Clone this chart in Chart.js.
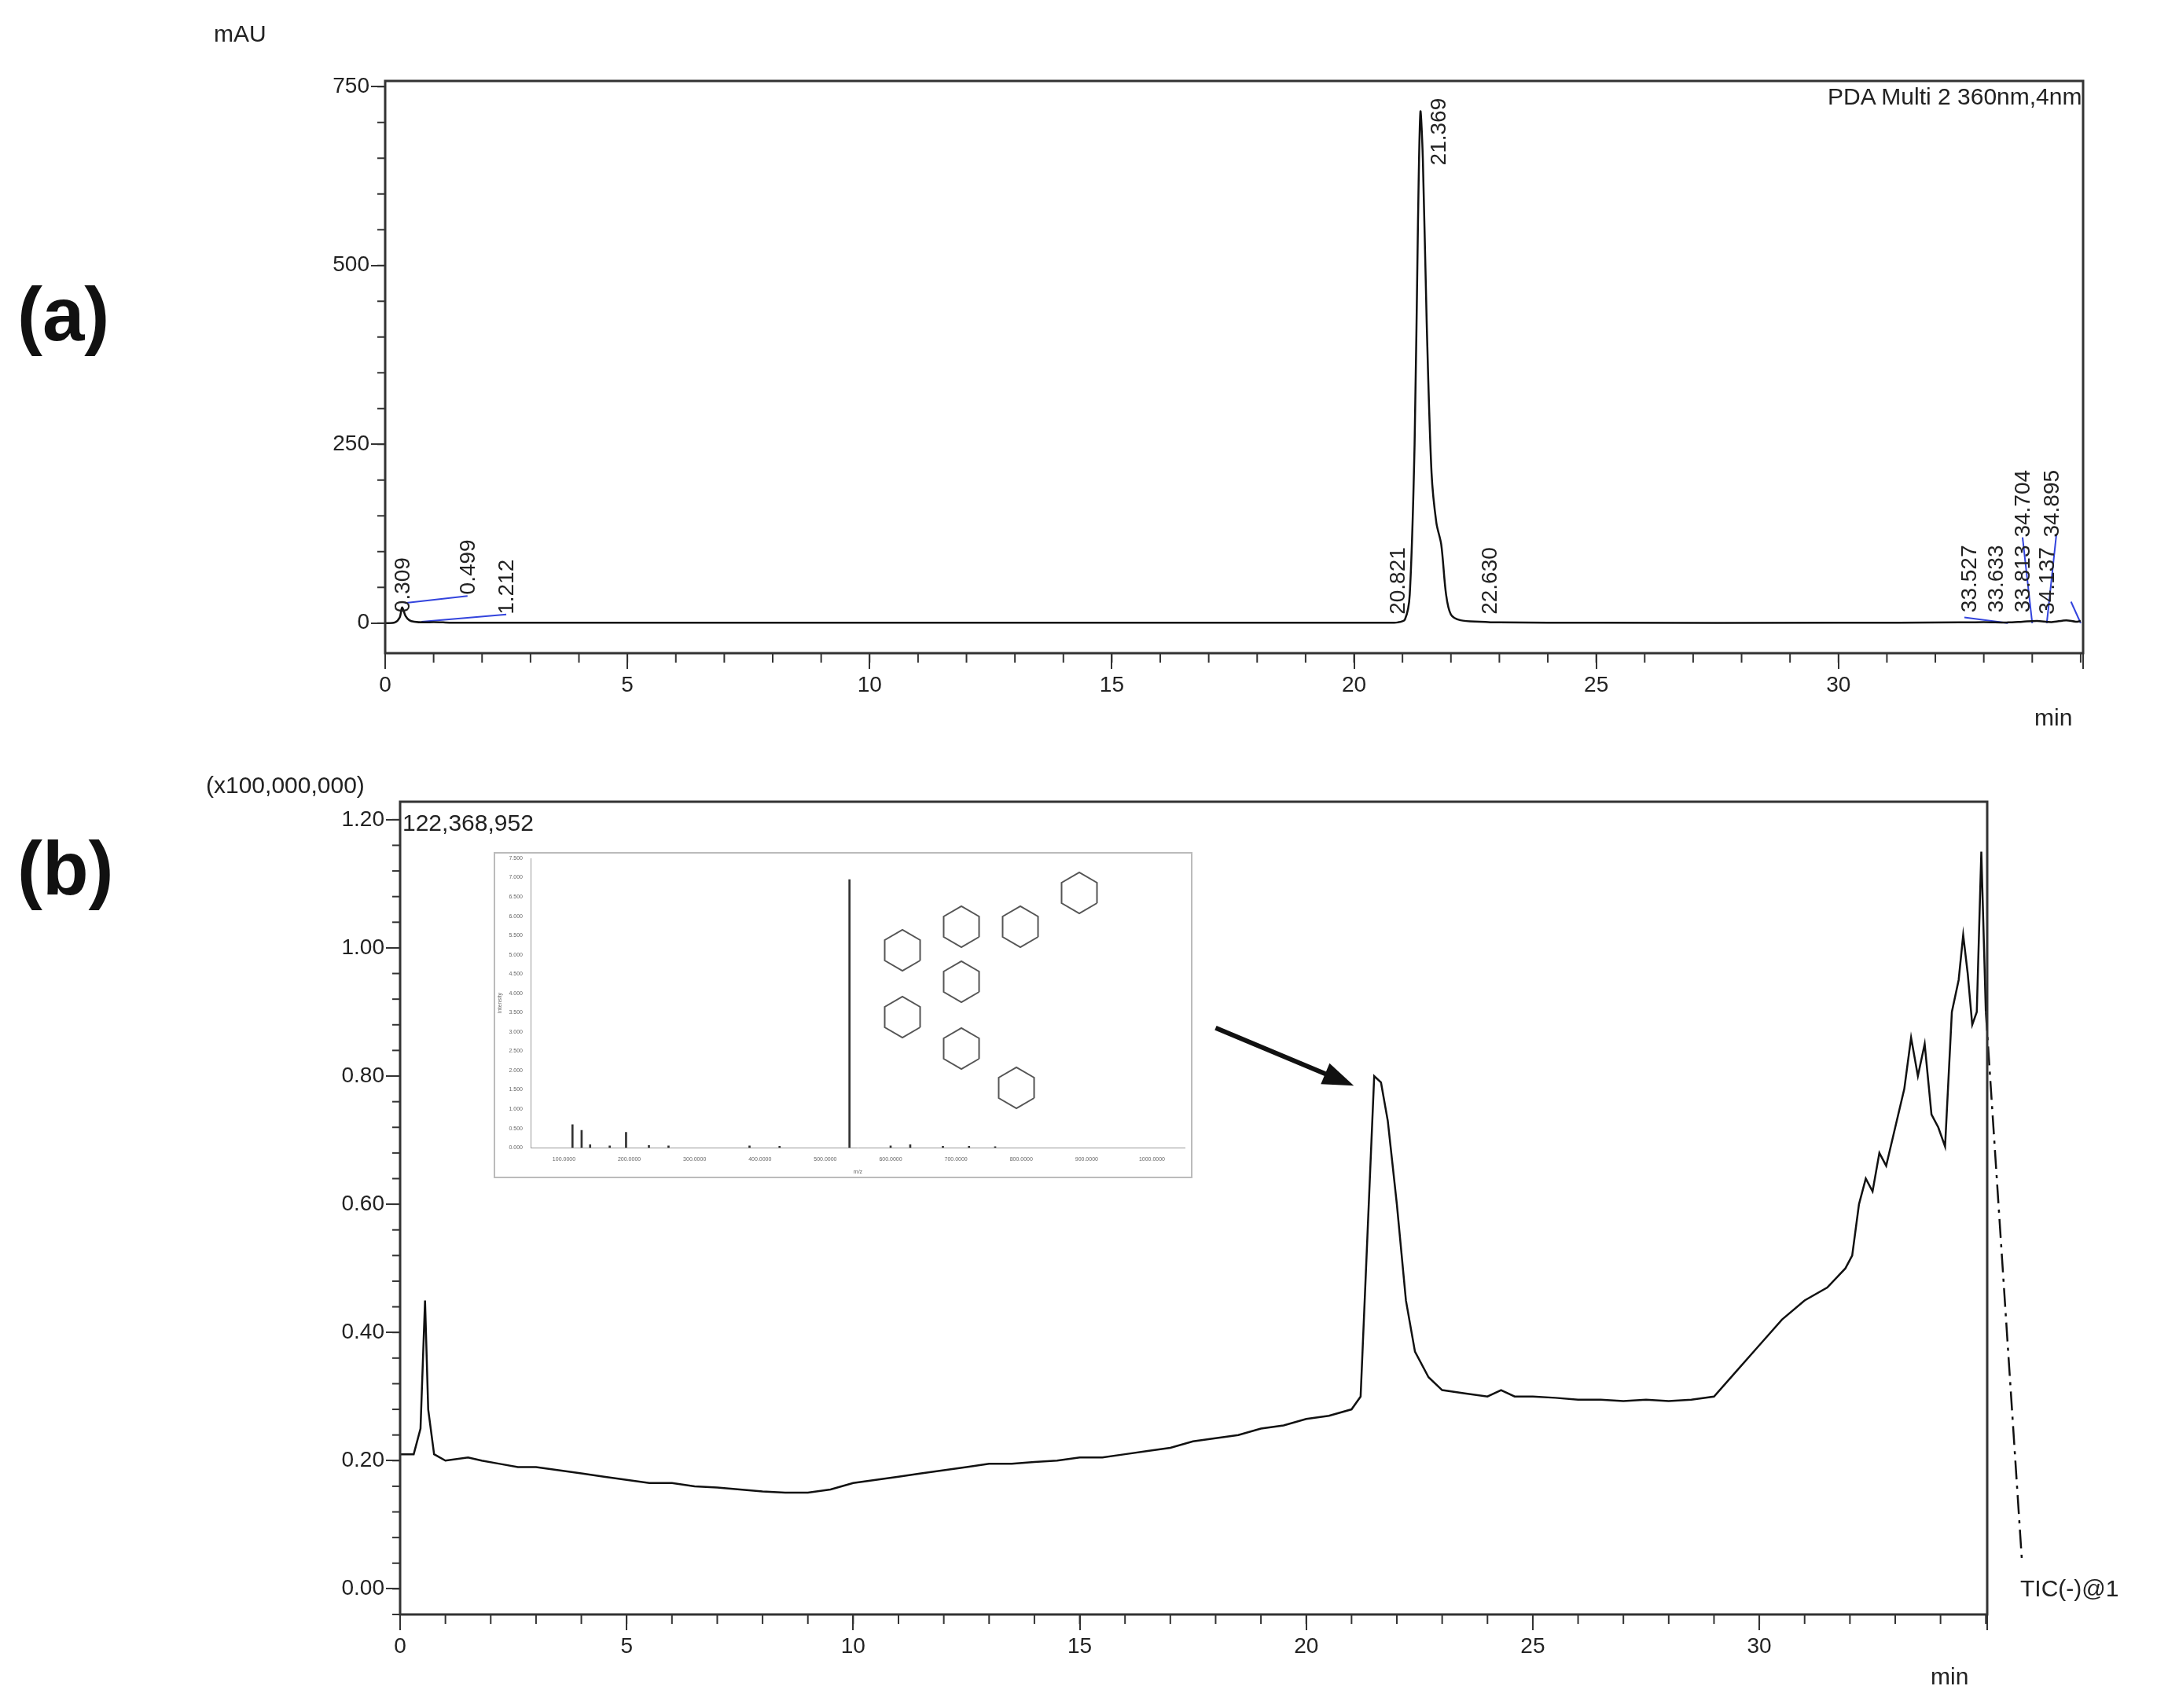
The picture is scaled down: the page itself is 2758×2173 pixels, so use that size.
<!DOCTYPE html>
<html>
<head>
<meta charset="utf-8">
<script src="https://cdn.jsdelivr.net/npm/chart.js@4"></script>
<style>
  body { margin: 0; background: #fff; font-family: "Liberation Sans", Arial, sans-serif; }
  #page { position: relative; width: 2758px; height: 2173px; }
  canvas { position: absolute; }
  .lbl { position: absolute; color: #222; font-size: 30px; white-space: nowrap; }
  .big { position: absolute; font-weight: bold; font-size: 96px; color: #111; }
</style>
</head>
<body>
<div id="page">
  <canvas id="chartA" style="left:0px;top:0px" width="2758" height="950"></canvas>
  <canvas id="chartB" style="left:0px;top:950px" width="2758" height="1223"></canvas>
  <canvas id="inset" style="left:628px;top:1084px" width="889" height="415"></canvas>
  <div class="big" style="left:22px;top:345px">(a)</div>
  <div class="big" style="left:22px;top:1050px">(b)</div>
  <div class="lbl" style="left:272px;top:26px">mAU</div>
  <div class="lbl" style="left:2588px;top:896px">min</div>
  <div class="lbl" style="left:2325px;top:106px">PDA Multi 2 360nm,4nm</div>
  <div class="lbl" style="left:262px;top:982px">(x100,000,000)</div>
  <div class="lbl" style="left:512px;top:1030px">122,368,952</div>
  <div class="lbl" style="left:2570px;top:2004px">TIC(-)@1</div>
  <div class="lbl" style="left:2456px;top:2116px">min</div>
</div>
<script>
// ---- panel (a): PDA 360 nm chromatogram ----
var timeA = [0, 0.2, 0.3, 0.35, 0.42, 0.5, 0.6, 0.8, 1.0, 1.2, 1.5, 2, 3, 5, 10, 15, 20, 20.6, 20.9, 21.05, 21.15, 21.25, 21.32, 21.37, 21.42, 21.5, 21.6, 21.7, 21.8, 21.9, 22.0, 22.2, 22.6, 23, 25, 30, 32.5, 33.0, 33.5, 33.8, 34.1, 34.4, 34.7, 34.9, 35.0];
var mauA  = [0, 1, 8, 22, 10, 4, 2, 1, 1.5, 1, 0.5, 0.5, 0.5, 0.5, 0.5, 0.5, 0.5, 0.5, 1, 5, 40, 250, 560, 715, 650, 420, 210, 140, 110, 40, 12, 4, 2, 1, 0.5, 0.5, 1, 1.5, 1, 2, 3, 1.5, 4, 2, 3];
var yTicksA = [0, 250, 500, 750];
var peakLabelsA = ["0.309", "0.499", "1.212", "20.821", "21.369", "22.630", "33.527", "33.633", "33.813", "34.704", "34.137", "34.895"];
var peakLabelX  = [0.6, 1.95, 2.75, 21.15, 22.0, 23.05, 32.95, 33.5, 34.05, 34.05, 34.55, 34.65];
var peakLabelY  = [15, 40, 12, 12, 640, 12, 15, 15, 15, 120, 12, 120];
// blue integration baselines, pairs of [t, mAU]
var baselineA = [
  [[0.4, 28], [1.7, 38]],
  [[0.75, 2], [2.5, 12]],
  [[32.6, 8], [33.5, 0]],
  [[33.8, 120], [34.0, 0]],
  [[34.5, 125], [34.3, 0]],
  [[34.8, 30], [35.0, 0]]
];

// ---- panel (b): TIC ----
var timeB = [0, 0.3, 0.45, 0.55, 0.62, 0.75, 1.0, 1.5, 1.8, 2.2, 2.6, 3.0, 3.5, 4.0, 4.5, 5.0, 5.5, 6.0, 6.5, 7.0, 7.5, 8.0, 8.5, 9.0, 9.5, 10.0, 10.5, 11.0, 11.5, 12.0, 12.5, 13.0, 13.5, 14.0, 14.5, 15.0, 15.5, 16.0, 16.5, 17.0, 17.5, 18.0, 18.5, 19.0, 19.5, 20.0, 20.5, 21.0, 21.2, 21.35, 21.5, 21.65, 21.8, 22.0, 22.2, 22.4, 22.7, 23.0, 23.5, 24.0, 24.3, 24.6, 25.0, 25.5, 26.0, 26.5, 27.0, 27.5, 28.0, 28.5, 29.0, 29.5, 30.0, 30.5, 31.0, 31.5, 31.9, 32.05, 32.2, 32.35, 32.5, 32.65, 32.8, 33.0, 33.2, 33.35, 33.5, 33.65, 33.8, 33.95, 34.1, 34.25, 34.4, 34.5, 34.6, 34.7, 34.8, 34.9, 35.0];
var ticB  = [0.21, 0.21, 0.25, 0.45, 0.28, 0.21, 0.20, 0.205, 0.20, 0.195, 0.19, 0.19, 0.185, 0.18, 0.175, 0.17, 0.165, 0.165, 0.16, 0.158, 0.155, 0.152, 0.15, 0.15, 0.155, 0.165, 0.17, 0.175, 0.18, 0.185, 0.19, 0.195, 0.195, 0.198, 0.20, 0.205, 0.205, 0.21, 0.215, 0.22, 0.23, 0.235, 0.24, 0.25, 0.255, 0.265, 0.27, 0.28, 0.30, 0.55, 0.80, 0.79, 0.73, 0.60, 0.45, 0.37, 0.33, 0.31, 0.305, 0.30, 0.31, 0.30, 0.30, 0.298, 0.295, 0.295, 0.293, 0.295, 0.293, 0.295, 0.30, 0.34, 0.38, 0.42, 0.45, 0.47, 0.50, 0.52, 0.60, 0.64, 0.62, 0.68, 0.66, 0.72, 0.78, 0.86, 0.80, 0.85, 0.74, 0.72, 0.69, 0.90, 0.95, 1.02, 0.96, 0.88, 0.90, 1.15, 0.90];
var yTicksB = [0, 0.2, 0.4, 0.6, 0.8, 1.0, 1.2];
var tailB = [[35.0, 0.90], [35.8, 0.04]];
var arrowB = [[18.0, 0.875], [21.05, 0.785]];

// ---- inset mass spectrum ----
var mzInset = [113, 127, 140, 170, 195, 230, 260, 384, 430, 537, 600, 630, 680, 720, 760];
var intInset = [0.6, 0.45, 0.08, 0.05, 0.4, 0.06, 0.05, 0.05, 0.04, 6.95, 0.05, 0.08, 0.04, 0.04, 0.03];

var TXT = "#222";
var FONT = { family: "'Liberation Sans', Arial, sans-serif", size: 28 };

function minorTicks(chart, axis, step, len) {
  var s = chart.scales[axis], ctx = chart.ctx, a = chart.chartArea;
  ctx.save(); ctx.strokeStyle = "#333"; ctx.lineWidth = 2;
  for (var v = Math.ceil(s.min / step) * step; v <= s.max + 1e-9; v += step) {
    var p = s.getPixelForValue(v);
    ctx.beginPath();
    if (axis === "x") { ctx.moveTo(p, a.bottom); ctx.lineTo(p, a.bottom + len); }
    else { ctx.moveTo(a.left, p); ctx.lineTo(a.left - len, p); }
    ctx.stroke();
  }
  ctx.restore();
}

var frame = {
  id: "frame",
  afterDraw: function (chart) {
    var a = chart.chartArea, ctx = chart.ctx, o = chart.options.plugins.frame;
    ctx.save(); ctx.strokeStyle = "#333"; ctx.lineWidth = 3;
    ctx.strokeRect(a.left, a.top, a.right - a.left, a.bottom - a.top);
    ctx.restore();
    minorTicks(chart, "x", 1, 12);
    minorTicks(chart, "y", o.yMinor, 10);
  }
};

function axes(xmax, ymin, ymax, yticks, yfmt, ywidth, xheight) {
  return {
    x: {
      type: "linear", min: 0, max: xmax,
      grid: { display: true, drawOnChartArea: false, tickLength: 20, color: "#333", lineWidth: 2 },
      border: { display: false },
      ticks: { stepSize: 5, color: TXT, font: FONT, padding: 4, callback: function (v) { return v <= 30 ? v : ""; } },
      afterFit: function (s) { s.height = xheight; }
    },
    y: {
      min: ymin, max: ymax,
      grid: { display: true, drawOnChartArea: false, tickLength: 18, color: "#333", lineWidth: 2 },
      border: { display: false },
      ticks: { color: TXT, font: FONT, padding: 2, callback: yfmt },
      afterBuildTicks: function (s) { s.ticks = yticks.map(function (v) { return { value: v }; }); },
      afterFit: function (s) { s.width = ywidth; }
    }
  };
}

function pts(xs, ys) { return xs.map(function (x, i) { return { x: x, y: ys[i] }; }); }

// panel (a)
var dsA = [{ data: pts(timeA, mauA), borderColor: "#111", borderWidth: 2.5, pointRadius: 0, tension: 0.3 }];
baselineA.forEach(function (seg) {
  dsA.push({ data: seg.map(function (p) { return { x: p[0], y: p[1] }; }), borderColor: "#3344dd", borderWidth: 2, pointRadius: 0 });
});

var peakText = {
  id: "peakText",
  afterDatasetsDraw: function (chart) {
    var ctx = chart.ctx, sx = chart.scales.x, sy = chart.scales.y;
    ctx.save(); ctx.fillStyle = TXT; ctx.font = "28px 'Liberation Sans', Arial";
    peakLabelsA.forEach(function (t, i) {
      ctx.save();
      ctx.translate(sx.getPixelForValue(peakLabelX[i]), sy.getPixelForValue(peakLabelY[i]));
      ctx.rotate(-Math.PI / 2);
      ctx.textBaseline = "bottom";
      ctx.fillText(t, 0, 0);
      ctx.restore();
    });
    ctx.restore();
  }
};

new Chart(document.getElementById("chartA"), {
  type: "line",
  data: { datasets: dsA },
  options: {
    responsive: false, animation: false,
    layout: { padding: { top: 103, right: 108, left: 0, bottom: 0 } },
    scales: axes(35.05, -42, 758, yTicksA, function (v) { return v; }, 490, 119),
    plugins: { legend: { display: false }, tooltip: { enabled: false }, frame: { yMinor: 50 } }
  },
  plugins: [frame, peakText]
});

// panel (b)
var arrow = {
  id: "arrow",
  afterDatasetsDraw: function (chart) {
    var ctx = chart.ctx, sx = chart.scales.x, sy = chart.scales.y;
    var x0 = sx.getPixelForValue(arrowB[0][0]), y0 = sy.getPixelForValue(arrowB[0][1]);
    var x1 = sx.getPixelForValue(arrowB[1][0]), y1 = sy.getPixelForValue(arrowB[1][1]);
    var ang = Math.atan2(y1 - y0, x1 - x0);
    ctx.save(); ctx.strokeStyle = "#111"; ctx.fillStyle = "#111"; ctx.lineWidth = 6;
    ctx.beginPath(); ctx.moveTo(x0, y0);
    ctx.lineTo(x1 - 30 * Math.cos(ang), y1 - 30 * Math.sin(ang)); ctx.stroke();
    ctx.beginPath(); ctx.moveTo(x1, y1);
    ctx.lineTo(x1 - 42 * Math.cos(ang - 0.35), y1 - 42 * Math.sin(ang - 0.35));
    ctx.lineTo(x1 - 42 * Math.cos(ang + 0.35), y1 - 42 * Math.sin(ang + 0.35));
    ctx.closePath(); ctx.fill();
    ctx.restore();
  }
};

new Chart(document.getElementById("chartB"), {
  type: "line",
  data: {
    datasets: [
      { data: pts(timeB, ticB), borderColor: "#111", borderWidth: 2.5, pointRadius: 0, tension: 0 },
      { data: tailB.map(function (p) { return { x: p[0], y: p[1] }; }), borderColor: "#111", borderWidth: 2.5, pointRadius: 0, borderDash: [24, 8, 4, 8], clip: false }
    ]
  },
  options: {
    responsive: false, animation: false,
    layout: { padding: { top: 70, right: 230, left: 0, bottom: 0 } },
    scales: axes(35.03, -0.04, 1.228, yTicksB, function (v) { return v.toFixed(2); }, 509, 119),
    plugins: { legend: { display: false }, tooltip: { enabled: false }, frame: { yMinor: 0.04 } }
  },
  plugins: [frame, arrow]
});

// inset spectrum with structure sketch
var structure = {
  id: "structure",
  beforeDraw: function (chart) {
    var ctx = chart.ctx;
    ctx.save(); ctx.fillStyle = "#fff"; ctx.fillRect(0, 0, chart.width, chart.height);
    ctx.strokeStyle = "#bbb"; ctx.lineWidth = 2; ctx.strokeRect(1, 1, chart.width - 2, chart.height - 2);
    ctx.restore();
  },
  afterDraw: function (chart) {
    var ctx = chart.ctx, r = 26;
    var rings = [[595, 95], [670, 95], [745, 52], [595, 165], [520, 125], [520, 210], [595, 250], [665, 300]];
    ctx.save(); ctx.strokeStyle = "#555"; ctx.lineWidth = 2;
    rings.forEach(function (c) {
      ctx.beginPath();
      for (var k = 0; k <= 6; k++) {
        var a = Math.PI / 6 + k * Math.PI / 3;
        var px = c[0] + r * Math.cos(a), py = c[1] + r * Math.sin(a);
        if (k === 0) ctx.moveTo(px, py); else ctx.lineTo(px, py);
      }
      ctx.stroke();
    });
    ctx.restore();
  }
};

new Chart(document.getElementById("inset"), {
  type: "bar",
  data: { datasets: [{ data: pts(mzInset, intInset), backgroundColor: "#333", barThickness: 2 }] },
  options: {
    responsive: false, animation: false,
    layout: { padding: { top: 8, right: 10, left: 0, bottom: 0 } },
    scales: {
      x: { type: "linear", min: 100, max: 1000, grid: { display: false }, border: { color: "#999" },
           ticks: { stepSize: 100, color: "#666", font: { size: 7 }, callback: function (v) { return v.toFixed(4); } },
           title: { display: true, text: "m/z", color: "#666", font: { size: 7 } } },
      y: { min: 0, max: 7.5, grid: { display: false }, border: { color: "#999" },
           ticks: { stepSize: 0.5, color: "#666", font: { size: 7 }, callback: function (v) { return v.toFixed(3); } },
           title: { display: true, text: "Intensity", color: "#666", font: { size: 7 } } }
    },
    plugins: { legend: { display: false }, tooltip: { enabled: false } }
  },
  plugins: [structure]
});
</script>
</body>
</html>
